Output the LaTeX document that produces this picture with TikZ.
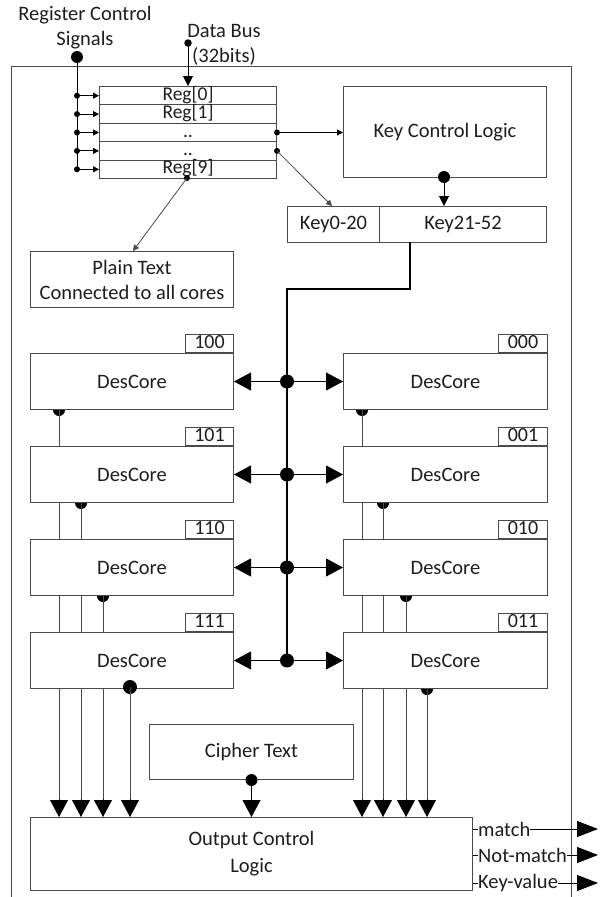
\documentclass[tikz,border=0pt]{standalone}
\usepackage{fontspec}
\setmainfont{Carlito}
\usetikzlibrary{arrows.meta}
\pgfdeclarelayer{bg}
\pgfsetlayers{bg,main}
\definecolor{lgray}{HTML}{4A4A4A}
\definecolor{txt}{HTML}{1E1E1E}
\begin{document}
\begin{tikzpicture}[x=1pt,y=-1pt,
  font=\fontsize{20.5}{25}\selectfont,
  box/.style={draw=lgray, fill=white, line width=1pt, inner sep=0pt, anchor=north west, align=center, text=txt},
  regrow/.style={box, minimum width=177pt, minimum height=18.4pt, text height=12pt, text depth=3pt, font=\fontsize{19.5}{20}\selectfont},
  tagbox/.style={box, minimum height=18pt, text height=12pt, text depth=2pt, font=\fontsize{20}{20}\selectfont, anchor=south west},
  core/.style={box, minimum height=56pt},
  jdot/.style={circle, fill=black, inner sep=0pt, minimum size=#1},
  thin/.style={draw=lgray, line width=0.8pt},
  bigtip/.style={-{Triangle[length=17pt,width=18pt]}},
  midtip/.style={-{Triangle[length=10pt,width=10pt]}},
  smalltip/.style={-{Triangle[length=6pt,width=6pt]}},
  outtip/.style={-{Triangle[length=21pt,width=16pt]}},
  lbl/.style={inner sep=0pt, text=txt, align=center}
]
\useasboundingbox (0,0) rectangle (603,897);

% outer frame
\draw[lgray, line width=1pt] (11,897) -- (11,66) -- (571,66) -- (571,897);

% labels top
\node[lbl] (rcslbl) at (85,28) {Register Control\\Signals};
\node[lbl] (dblbl) at (224,45) {Data Bus\\(32bits)};

% register rows
\node[regrow] (r0) at (99,86) {Reg[0]};
\node[regrow] (r1) at (99,104.4) {Reg[1]};
\node[regrow] (r2) at (99,122.8) {..};
\node[regrow] (r3) at (99,141.2) {..};
\node[regrow] (r4) at (99,159.6) {Reg[9]};

% key control logic and key boxes
\node[box, minimum width=203pt, minimum height=91pt] (kcl) at (343,86) {Key Control Logic};
\node[box, minimum width=92pt, minimum height=36pt] (k0) at (287,206) {Key0-20};
\node[box, minimum width=167pt, minimum height=36pt] (k1) at (379,206) {Key21-52};

% plain text
\node[box, minimum width=203pt, minimum height=56pt, font=\fontsize{20.5}{25}\selectfont] (plain) at (30,251) {Plain Text\\Connected to all cores};

% des cores
\node[core, minimum width=203pt] (c100) at (30,353) {DesCore};
\node[core, minimum width=203pt] (c101) at (30,446) {DesCore};
\node[core, minimum width=203pt] (c110) at (30,539) {DesCore};
\node[core, minimum width=203pt] (c111) at (30,632) {DesCore};
\node[core, minimum width=204pt] (c000) at (343,353) {DesCore};
\node[core, minimum width=204pt] (c001) at (343,446) {DesCore};
\node[core, minimum width=204pt] (c010) at (343,539) {DesCore};
\node[core, minimum width=204pt] (c011) at (343,632) {DesCore};

\node[tagbox, minimum width=48pt] (t100) at (185,353) {100};
\node[tagbox, minimum width=48pt] (t101) at (185,446) {101};
\node[tagbox, minimum width=48pt] (t110) at (185,539) {110};
\node[tagbox, minimum width=48pt] (t111) at (185,632) {111};
\node[tagbox, minimum width=49pt] (t000) at (498,353) {000};
\node[tagbox, minimum width=49pt] (t001) at (498,446) {001};
\node[tagbox, minimum width=49pt] (t010) at (498,539) {010};
\node[tagbox, minimum width=49pt] (t011) at (498,632) {011};

% cipher and output
\node[box, minimum width=204pt, minimum height=55pt] (cipher) at (149,724) {Cipher Text};
\node[box, minimum width=442pt, minimum height=73pt, font=\fontsize{20.5}{27}\selectfont] (out) at (30,817) {Output Control\\Logic};

% ---------- connectors ----------
% register control signals
\node[jdot=12pt] (rcs) at (77,57) {};
\coordinate (rcsend) at (77, 169);
\draw[black, line width=1pt] (rcs.center) -- (rcsend);
\foreach \r in {r0,r1,r2,r3,r4}{
  \node[jdot=6pt] (d\r) at (77,0 |- \r.west) {};
  \draw[black, line width=1pt, smalltip] (d\r.center) -- (\r.west);
}

% data bus
\node[jdot=7.5pt] (db) at (188,43) {};
\draw[black, line width=1pt, midtip] (db.center) -- (db |- r0.north);

% reg -> kcl
\node[jdot=6pt] (dr2) at (r2.east) {};
\draw[black, line width=1pt, smalltip] (dr2.center) -- (dr2 -| kcl.west);
% reg -> key0
\node[jdot=6pt] (dr3) at (r3.east) {};
\coordinate (k0in) at (332,206);
\draw[thin, smalltip] (dr3.center) -- (k0in);
% reg9 -> plain
\node[jdot=6pt] (dr4) at (187,178) {};
\coordinate (plin) at (133,251);
\draw[thin, smalltip] (dr4.center) -- (plin);

% kcl -> key21-52
\node[jdot=12pt] (dk) at (444,177) {};
\draw[black, line width=1pt, midtip] (dk.center) -- (444,206);

% bus
\coordinate (b0) at (410,242);
\coordinate (b1) at (410,289);
\coordinate (b2) at (287,289);
\coordinate (b3) at (287,660);
\draw[black, line width=2.2pt] (b0) -- (b1) -- (b2) -- (b3);

\foreach \L/\R in {c100/c000,c101/c001,c110/c010,c111/c011}{
  \node[jdot=14pt] (j\L) at (287,0 |- \L.east) {};
  \draw[black, line width=0.9pt, bigtip] (j\L.center) -- (\L.east);
  \draw[black, line width=0.9pt, bigtip] (j\L.center) -- (\R.west);
}

% vertical core outputs
\begin{pgfonlayer}{bg}
\foreach \x/\c in {59/c100,81/c101,103/c110,362/c000,383/c001,406/c010,427/c011}{
  \node[jdot=12pt] (v\c) at (\x,0 |- \c.south) {};
  \draw[lgray, line width=0.9pt] (v\c.center) -- (\x,800);
}
\end{pgfonlayer}
\node[jdot=14pt] (vc111) at (130,687) {};
\draw[lgray, line width=0.9pt] (vc111.center) -- (130,800);
\foreach \x in {59,81,103,130,362,383,406,427}{
  \draw[black, line width=0.9pt, bigtip] (\x,799) -- (\x,0 |- out.north);
}

% cipher -> out
\node[jdot=12pt] (dc) at (cipher.south) {};
\draw[black, line width=0.9pt, bigtip] (dc.center) -- (dc |- out.north);

% outputs
\node[lbl, anchor=west] (om) at (478,829) {match};
\node[lbl, anchor=west] (on) at (478,855) {Not-match};
\node[lbl, anchor=west] (ok) at (478,883) {Key-value};
\foreach \n in {om,on,ok}{
  \draw[black, line width=0.9pt] (\n.west -| out.east) -- (\n.west);
  \draw[black, line width=0.9pt, outtip] (\n.east) -- (598,0 |- \n.east);
}
\end{tikzpicture}
\end{document}
